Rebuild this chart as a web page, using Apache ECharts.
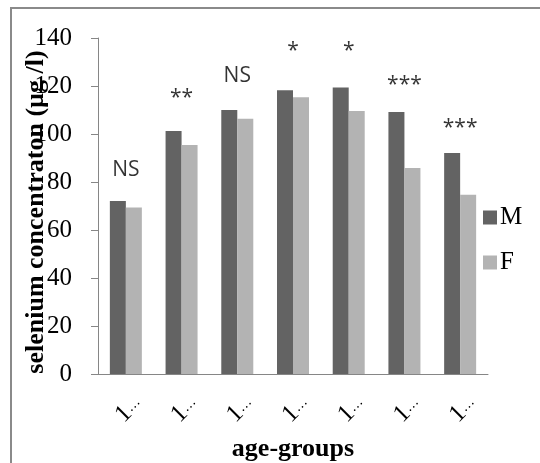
<!DOCTYPE html>
<html>
<head>
<meta charset="utf-8">
<script src="https://cdn.jsdelivr.net/npm/echarts@6/dist/echarts.min.js"></script>
<style>html,body{margin:0;padding:0;background:#fff;}#c{width:540px;height:463px;}</style>
</head>
<body>
<div id="c"></div>
<script>
const categories = ['1…', '1…', '1…', '1…', '1…', '1…', '1…'];
const maleValues = [72.1, 101.3, 110.0, 118.2, 119.4, 109.2, 92.1];
const femaleValues = [69.4, 95.4, 106.4, 115.3, 109.6, 85.8, 74.7];
const annotations = ['NS', '**', 'NS', '*', '*', '***', '***'];
const annotationY = [85.0, 115.0, 124.3, 134.6, 134.6, 120.3, 102.5];
const yTicks = [0, 20, 40, 60, 80, 100, 120, 140];

const serif = '"Liberation Serif", "Times New Roman", serif';
const chart = echarts.init(document.getElementById('c'), null, {renderer: 'canvas'});
chart.setOption({
  animation: false,
  backgroundColor: '#fff',
  grid: {left: 98, right: 52, top: 38, bottom: 89, containLabel: false, outerBoundsMode: 'none'},
  graphic: [{
    type: 'rect', z: -10,
    shape: {x: 11, y: 8, width: 700, height: 700},
    style: {fill: 'none', stroke: '#8a8a8a', lineWidth: 2}
  }],
  legend: {
    orient: 'vertical', left: 478, top: 200,
    data: ['M', 'F'], icon: 'rect', itemWidth: 14, itemHeight: 14, itemGap: 20,
    textStyle: {fontFamily: serif, fontSize: 25, color: '#000', padding: [0, 0, 0, -2]}
  },
  xAxis: {
    type: 'category', data: categories,
    name: 'age-groups', nameLocation: 'middle', nameGap: 62, nameMoveOverlap: false,
    nameTextStyle: {fontFamily: serif, fontWeight: 'bold', fontSize: 26, color: '#000'},
    axisLine: {lineStyle: {color: '#868686', width: 1}},
    axisTick: {show: false},
    axisLabel: {
      rotate: 45, margin: 38, align: 'center', verticalAlign: 'middle', interval: 0,
      padding: [0, 0, 0, 8],
      formatter: v => '{a|' + v.slice(0, 1) + '}{b|' + v.slice(1) + '}',
      rich: {
        a: {fontFamily: serif, fontSize: 25, color: '#000'},
        b: {fontFamily: serif, fontSize: 14, color: '#000'}
      }
    }
  },
  yAxis: {
    type: 'value', min: yTicks[0], max: yTicks[yTicks.length - 1], interval: 20,
    name: 'selenium concentraton (µg /l)', nameLocation: 'middle', nameGap: 49, nameMoveOverlap: false,
    nameTextStyle: {fontFamily: serif, fontWeight: 'bold', fontSize: 26, color: '#000', padding: [0, 12, 0, 0]},
    axisLine: {show: true, lineStyle: {color: '#868686', width: 1}},
    axisTick: {show: true, length: 7, lineStyle: {color: '#868686'}},
    splitLine: {show: false},
    axisLabel: {fontFamily: serif, fontSize: 25, color: '#000', margin: 26}
  },
  series: [
    {name: 'M', type: 'bar', data: maleValues, barWidth: 16, barGap: '0%',
     itemStyle: {color: '#636363'}},
    {name: 'F', type: 'bar', data: femaleValues, barWidth: 16, barGap: '0%',
     itemStyle: {color: '#b3b3b3'}},
    {name: 'sig', type: 'scatter', data: annotationY, symbolSize: 1,
     itemStyle: {color: 'rgba(0,0,0,0)'}, silent: true, z: 5,
     label: {show: true, position: 'inside', formatter: p => annotations[p.dataIndex],
       fontFamily: '"Open Sans", sans-serif', fontSize: 21, color: '#000'}}
  ]
});
</script>
</body>
</html>
